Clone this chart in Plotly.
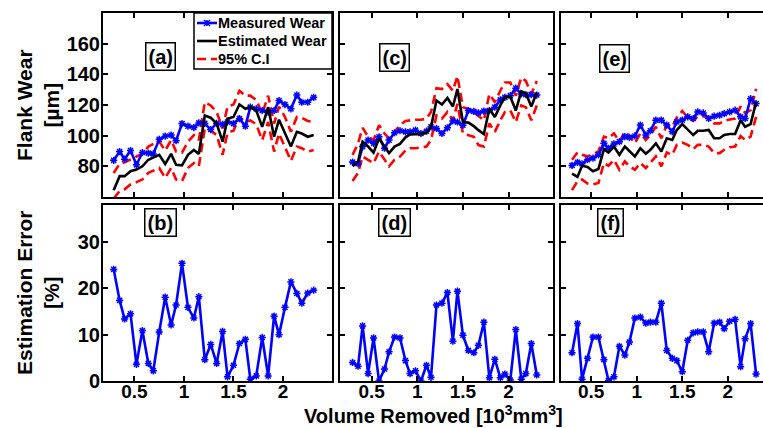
import plotly.graph_objects as go

# ---------------- data ----------------
volume = [0.29, 0.35, 0.40, 0.46, 0.52, 0.58, 0.64, 0.69, 0.75, 0.81, 0.87, 0.92,
          0.98, 1.04, 1.10, 1.15, 1.21, 1.27, 1.33, 1.39, 1.44, 1.50, 1.56, 1.62,
          1.67, 1.73, 1.79, 1.85, 1.91, 1.96, 2.02, 2.08, 2.14, 2.19, 2.25, 2.31]

meas_a = [83.9, 89.6, 84.7, 90.3, 81.0, 89.0, 88.6, 88.1, 97.6, 99.7, 100.4, 96.7,
          107.9, 106.2, 105.3, 108.3, 108.0, 104.0, 108.0, 107.4, 108.9, 107.9, 111.1, 106.2,
          118.6, 117.5, 116.4, 115.4, 116.4, 122.9, 120.3, 117.5, 126.5, 121.8, 121.8, 125.0]
est_a = [64.4, 73.6, 73.6, 76.8, 77.9, 80.0, 84.3, 86.0, 87.5, 81.5, 88.1, 81.0,
         80.6, 87.5, 90.7, 88.1, 113.2, 111.7, 107.9, 96.1, 111.1, 112.2, 120.3, 117.5,
         118.6, 116.4, 105.7, 118.6, 99.3, 110.4, 101.4, 92.9, 102.5, 101.4, 99.3, 100.4]
up_a = [75.7, 81.7, 82.6, 84.7, 86.4, 88.1, 92.9, 94.6, 96.1, 90.3, 97.1, 89.6,
        89.0, 96.1, 100.4, 97.1, 121.8, 119.7, 115.4, 104.7, 119.0, 120.3, 129.3, 126.1,
        126.1, 123.3, 114.3, 126.1, 107.9, 119.0, 112.2, 102.5, 112.2, 111.7, 109.6, 108.9]
lo_a = [59.0, 63.9, 65.0, 68.2, 69.7, 71.4, 75.7, 77.4, 78.9, 72.5, 78.9, 71.4,
        70.4, 78.9, 82.1, 80.0, 104.7, 103.2, 100.4, 87.5, 101.9, 103.2, 112.2, 108.9,
        110.0, 107.4, 97.1, 108.9, 89.6, 101.4, 92.9, 83.6, 92.9, 91.8, 89.6, 90.7]
err_b = [24.1, 17.4, 13.4, 14.5, 3.6, 10.9, 3.8, 2.2, 10.6, 18.1, 12.1, 16.4,
         25.4, 15.9, 13.6, 18.2, 4.6, 7.9, 3.8, 10.7, 0.9, 3.4, 8.1, 9.0,
         0.4, 1.1, 9.4, 1.1, 14.0, 10.0, 15.9, 21.4, 18.9, 16.8, 19.0, 19.6]

meas_c = [82.8, 81.7, 92.9, 97.1, 95.0, 99.3, 91.8, 97.1, 101.9, 103.2, 102.5, 102.5,
          103.6, 101.4, 102.9, 105.7, 104.7, 101.4, 105.1, 109.6, 108.9, 106.8, 116.4, 115.8,
          114.9, 116.0, 116.4, 118.6, 123.3, 125.0, 126.1, 131.0, 127.2, 126.7, 126.7, 126.5]
est_c = [80.0, 83.2, 96.1, 92.9, 89.0, 98.2, 92.9, 88.6, 92.9, 94.6, 98.9, 100.8,
         101.0, 101.0, 101.9, 105.7, 122.9, 120.3, 124.6, 119.0, 130.4, 108.9, 108.5, 106.2,
         103.6, 101.0, 117.5, 112.2, 119.7, 125.0, 125.4, 116.4, 128.9, 127.6, 119.0, 128.2]
up_c = [87.5, 95.0, 105.1, 99.3, 97.1, 106.8, 101.4, 98.2, 102.5, 106.8, 109.6, 110.0,
        110.4, 110.4, 111.1, 115.4, 131.0, 130.4, 133.6, 129.3, 138.9, 118.6, 117.5, 115.4,
        113.2, 110.0, 127.2, 121.8, 129.3, 134.7, 134.7, 126.1, 137.9, 135.7, 127.2, 135.7]
lo_c = [70.4, 75.7, 86.4, 84.3, 82.1, 89.6, 84.3, 80.0, 84.3, 86.4, 90.3, 91.8,
        91.8, 92.4, 92.9, 97.1, 113.2, 111.1, 115.4, 110.0, 120.7, 101.4, 100.4, 99.3,
        93.9, 92.9, 107.9, 102.5, 110.0, 115.4, 116.4, 108.9, 119.7, 118.6, 110.0, 119.7]
err_d = [4.0, 3.2, 11.9, 1.6, 9.3, 0.0, 2.6, 6.3, 9.5, 9.3, 4.4, 1.6,
         2.2, 0.0, 3.4, 0.8, 16.4, 16.8, 19.1, 8.6, 19.4, 9.9, 6.6, 6.1,
         7.7, 12.7, 0.7, 4.7, 0.7, 1.5, 0.2, 11.1, 0.4, 1.6, 8.1, 1.3]

meas_e = [80.6, 82.6, 81.7, 84.3, 85.4, 87.5, 95.0, 91.8, 94.6, 96.1, 99.4, 98.9,
          99.8, 106.9, 100.4, 103.2, 110.1, 110.1, 106.9, 102.6, 109.0, 110.1, 112.3, 111.2,
          115.5, 114.8, 111.2, 112.7, 113.3, 114.4, 115.5, 116.6, 112.3, 111.2, 124.1, 120.9]
est_e = [75.3, 73.1, 80.4, 79.6, 76.8, 78.3, 91.2, 89.0, 92.9, 87.5, 92.9, 89.7,
         86.5, 91.8, 88.2, 90.8, 95.0, 89.7, 98.3, 97.2, 103.7, 107.5, 103.7, 100.4,
         103.2, 103.2, 103.7, 98.3, 98.3, 100.4, 101.1, 101.1, 110.1, 105.8, 107.5, 121.9]
up_e = [84.3, 89.0, 87.5, 86.5, 88.0, 89.7, 99.4, 98.3, 101.5, 96.1, 102.6, 99.8,
        95.1, 101.5, 97.2, 100.4, 105.8, 98.3, 106.9, 105.8, 111.8, 116.1, 111.8, 109.7,
        112.7, 112.7, 111.8, 108.0, 108.0, 109.7, 110.5, 111.2, 119.1, 114.8, 116.6, 130.5]
lo_e = [64.5, 70.3, 71.4, 68.8, 68.2, 69.2, 82.2, 80.4, 84.3, 77.8, 83.2, 80.0,
        77.8, 82.2, 78.9, 82.2, 86.5, 80.0, 89.0, 87.5, 94.0, 95.5, 94.0, 91.2,
        94.0, 94.0, 92.9, 88.6, 88.6, 90.8, 92.5, 92.9, 99.8, 97.2, 99.4, 112.3]
err_f = [6.1, 12.4, 0.4, 4.9, 9.5, 9.5, 4.6, 0.1, 0.9, 7.5, 5.6, 8.4,
         13.6, 13.8, 12.5, 12.7, 12.7, 16.8, 6.6, 4.9, 4.4, 2.0, 8.8, 10.4,
         10.6, 10.6, 6.3, 12.5, 12.7, 11.3, 12.9, 13.3, 3.1, 9.1, 12.4, 1.5]

x_ticks = [0.5, 1, 1.5, 2]
x_tick_labels = ["0.5", "1", "1.5", "2"]
wear_ticks = [80, 100, 120, 140, 160]
err_ticks = [0, 10, 20, 30]
panel_labels = ["(a)", "(c)", "(e)", "(b)", "(d)", "(f)"]
legend_names = ["Measured Wear", "Estimated Wear", "95% C.I"]

# ---------------- styling ----------------
FONT = "Liberation Sans, Arial, sans-serif"
BLUE = "#0000FF"
RED = "#FF0000"
LW = 2.6
DASH = "9px,5px"
STAR = dict(symbol="asterisk-open", size=6, line=dict(color=BLUE, width=1.5))

fig = go.Figure()

top_sets = [(meas_a, est_a, up_a, lo_a, "x", "y"),
            (meas_c, est_c, up_c, lo_c, "x2", "y2"),
            (meas_e, est_e, up_e, lo_e, "x3", "y3")]
for m, e, u, l, xa, ya in top_sets:
    fig.add_trace(go.Scatter(x=volume, y=u, xaxis=xa, yaxis=ya, mode="lines",
                             line=dict(color=RED, width=LW, dash=DASH),
                             name=legend_names[2]))
    fig.add_trace(go.Scatter(x=volume, y=l, xaxis=xa, yaxis=ya, mode="lines",
                             line=dict(color=RED, width=LW, dash=DASH),
                             name=legend_names[2]))
    fig.add_trace(go.Scatter(x=volume, y=m, xaxis=xa, yaxis=ya, mode="lines+markers",
                             line=dict(color=BLUE, width=LW), marker=STAR,
                             name=legend_names[0]))
    fig.add_trace(go.Scatter(x=volume, y=e, xaxis=xa, yaxis=ya, mode="lines",
                             line=dict(color="black", width=LW),
                             name=legend_names[1]))

for err, xa, ya in [(err_b, "x4", "y4"), (err_d, "x5", "y5"), (err_f, "x6", "y6")]:
    fig.add_trace(go.Scatter(x=volume, y=err, xaxis=xa, yaxis=ya, mode="lines+markers",
                             line=dict(color=BLUE, width=LW), marker=STAR,
                             name="Estimation Error"))

W, H = 763, 428
def px_x(a, b):
    return [a / W, min(b / W, 1.0)]
def px_y(top, bottom):
    return [1 - bottom / H, 1 - top / H]

col_dom = [px_x(103, 332), px_x(340, 553), px_x(561, 763)]
col_rng = [[0.182, 2.495], [0.152, 2.488], [0.169, 2.386]]
row_dom = [px_y(13, 197), px_y(205, 381)]

tickfont = dict(family=FONT, size=19, color="black", weight="bold")
axis_common = dict(showline=True, linecolor="black", linewidth=2, ticks="inside",
                   ticklen=5, tickwidth=1.5, tickcolor="black", showgrid=False,
                   zeroline=False, tickfont=tickfont, automargin=False)

layout_axes = {}
for r in range(2):
    for c in range(3):
        idx = r * 3 + c + 1
        xname = "xaxis" if idx == 1 else f"xaxis{idx}"
        yname = "yaxis" if idx == 1 else f"yaxis{idx}"
        anchor_y = "y" if idx == 1 else f"y{idx}"
        anchor_x = "x" if idx == 1 else f"x{idx}"
        layout_axes[xname] = dict(axis_common, domain=col_dom[c], range=col_rng[c],
                                  anchor=anchor_y, mirror="ticks",
                                  tickvals=x_ticks, ticktext=x_tick_labels,
                                  ticklabelstandoff=-8,
                                  showticklabels=(r == 1))
        if r == 0:
            yr, yt = [60, 180], wear_ticks
        else:
            yr, yt = [0, 38], err_ticks
        layout_axes[yname] = dict(axis_common, domain=row_dom[r], range=yr,
                                  anchor=anchor_x, tickvals=yt,
                                  mirror=("ticks" if c < 2 else False),
                                  tickfont=dict(tickfont, size=20),
                                  ticklabelstandoff=-3,
                                  showticklabels=(c == 0))

# panel labels (boxed)
label_pos = [("x domain", "y domain", 0.253, 0.761),
             ("x2 domain", "y2 domain", 0.258, 0.758),
             ("x3 domain", "y3 domain", 0.267, 0.755),
             ("x4 domain", "y4 domain", 0.253, 0.898),
             ("x5 domain", "y5 domain", 0.254, 0.900),
             ("x6 domain", "y6 domain", 0.245, 0.900)]
annotations = []
for txt, (xr, yr_, ax, ay) in zip(panel_labels, label_pos):
    annotations.append(dict(text=txt, xref=xr, yref=yr_, x=ax, y=ay,
                            showarrow=False, xanchor="center", yanchor="middle",
                            font=dict(family=FONT, size=20, color="black", weight="bold"),
                            bordercolor="black", borderwidth=1.5, borderpad=2,
                            bgcolor="white"))

title_font = dict(family=FONT, size=21, color="black", weight="bold")
annotations.append(dict(text="Flank Wear<br>[µm]", xref="paper", yref="paper",
                        x=38 / W, y=1 - 105 / H, textangle=-90, showarrow=False,
                        xanchor="center", yanchor="middle", font=title_font))
annotations.append(dict(text="Estimation Error<br>[%]", xref="paper", yref="paper",
                        x=38 / W, y=1 - 293 / H, textangle=-90, showarrow=False,
                        xanchor="center", yanchor="middle", font=title_font))
annotations.append(dict(text="Volume Removed [10<sup>3</sup>mm<sup>3</sup>]",
                        xref="paper", yref="paper", x=433 / W, y=1 - 414 / H,
                        showarrow=False, xanchor="center", yanchor="middle",
                        font=dict(title_font, size=20)))

# ---------------- legend box (inside panel a, top-right) ----------------
def PX(v):
    return v / W
def PY(v):
    return 1 - v / H

shapes = [dict(type="rect", xref="paper", yref="paper",
               x0=PX(194), x1=PX(332), y0=PY(69), y1=PY(13),
               line=dict(color="black", width=1.5), fillcolor="white", layer="above")]
row_y = [23, 41, 59]
sample_styles = [dict(color=BLUE, width=LW), dict(color="black", width=LW),
                 dict(color=RED, width=LW, dash=DASH)]
for ry, st in zip(row_y, sample_styles):
    shapes.append(dict(type="line", xref="paper", yref="paper",
                       x0=PX(197), x1=PX(217), y0=PY(ry), y1=PY(ry),
                       line=st, layer="above"))
# small asterisk marker on measured-wear sample
cx, cy, s = 207, row_y[0], 3
shapes.append(dict(type="path", xref="paper", yref="paper", layer="above",
                   path=(f"M{PX(cx - s)},{PY(cy)} L{PX(cx + s)},{PY(cy)} "
                         f"M{PX(cx)},{PY(cy - s)} L{PX(cx)},{PY(cy + s)} "
                         f"M{PX(cx - s)},{PY(cy - s)} L{PX(cx + s)},{PY(cy + s)} "
                         f"M{PX(cx - s)},{PY(cy + s)} L{PX(cx + s)},{PY(cy - s)}"),
                   line=dict(color=BLUE, width=1.5)))
for ry, name in zip(row_y, legend_names):
    annotations.append(dict(text=name, xref="paper", yref="paper",
                            x=PX(216), y=PY(ry), xanchor="left", yanchor="middle",
                            showarrow=False,
                            font=dict(family=FONT, size=14.5, color="black", weight="bold")))

fig.update_layout(
    width=W, height=H, autosize=False,
    margin=dict(l=0, r=0, t=0, b=0, autoexpand=False),
    paper_bgcolor="white", plot_bgcolor="white",
    font=dict(family=FONT, color="black"),
    showlegend=False,
    annotations=annotations,
    shapes=shapes,
    **layout_axes,
)

fig.write_html("out.html")
